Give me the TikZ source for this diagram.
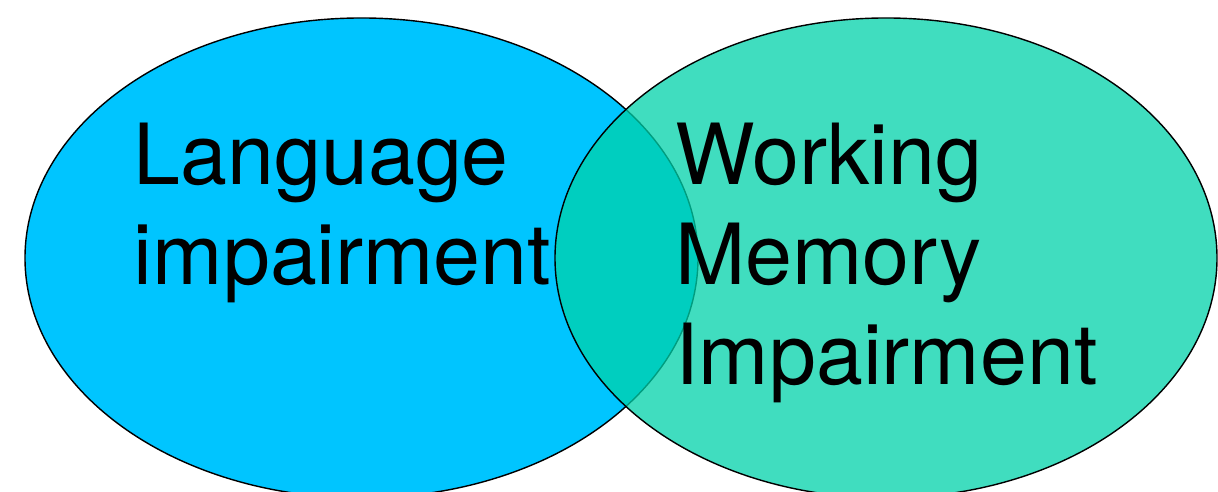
\documentclass[tikz,border=0pt]{standalone}
\usepackage{fontspec}
\setmainfont{TeX Gyre Heros}
\definecolor{langblue}{RGB}{0,197,255}
\definecolor{memgreen}{RGB}{0,210,170}

\begin{document}
\begin{tikzpicture}[
	setlabel/.style = {anchor=north west, inner sep=0pt, align=left,
		font=\fontsize{24}{28.45}\selectfont}
	]

	\useasboundingbox (0,0) rectangle (12.18,4.92);
	\clip (0,0) rectangle (12.18,4.92);

	\draw[fill=langblue, line width=.4pt] (3.615,2.34) ellipse [x radius=3.365, y radius=2.4];
	\draw[fill=memgreen, fill opacity=.75, line width=.4pt] (8.86,2.34) ellipse [x radius=3.31, y radius=2.4];

	\node[setlabel] (lang) at (1.33,3.7) {Language\\impairment};
	\node[setlabel] (wm) at (6.745,3.7) {Working\\Memory\\Impairment};
\end{tikzpicture}
\end{document}
